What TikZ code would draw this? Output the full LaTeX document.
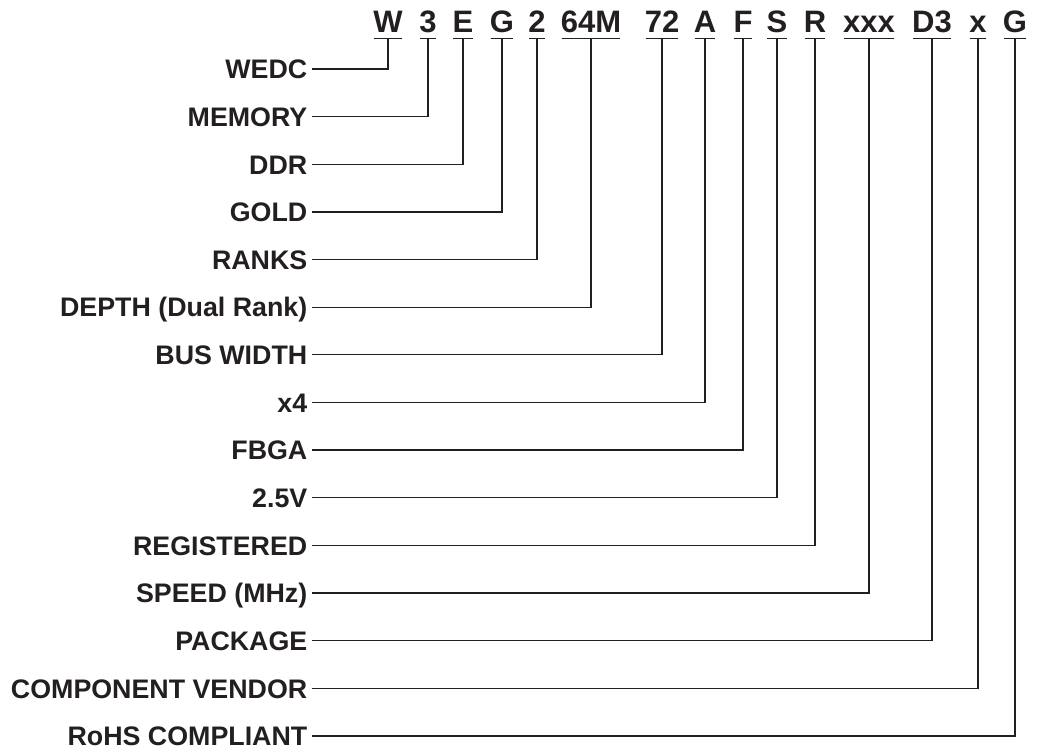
\documentclass[tikz,border=0pt]{standalone}
\usepackage{fontspec}
\setmainfont{Liberation Sans}
\definecolor{ink}{HTML}{231F20}

\tikzset{
  code/.style={font=\fontsize{31}{31}\selectfont\bfseries, text=ink, anchor=base,
    inner xsep=-1pt, inner ysep=6pt, text depth=0pt},
  field/.style={font=\fontsize{26.8}{26.8}\selectfont\bfseries, text=ink, anchor=east,
    inner xsep=4.5pt, inner ysep=0pt, text height=19.5pt, text depth=0pt},
  lead/.style={draw=ink, line width=1.3pt}
}

\begin{document}
\begin{tikzpicture}[x=1pt,y=1pt]
                \useasboundingbox (0,0) rectangle (1037,-747);
                % part number characters
                \foreach \c/\x [count=\i] in {W/388,3/428,E/463,G/502,2/537,64M/591,72/662,A/705,F/743,S/777,R/815,xxx/869,D3/932,x/978,G/1015}
                {
                    \node[code] (h\i) at (\x,-32) {\c};
                    \draw[lead] (h\i.south west) -- (h\i.south east);
                }
                % field names
                \foreach \t [count=\i] in {WEDC,MEMORY,DDR,GOLD,RANKS,DEPTH (Dual Rank),BUS WIDTH,x4,FBGA,2.5V,REGISTERED,SPEED (MHz),PACKAGE,COMPONENT VENDOR,RoHS COMPLIANT}
                {
                    \node[field] (l\i) at (312,{-69-47.64*(\i-1)}) {\t};
                    \draw[lead] (l\i.east) -| (h\i.south);
                }
            \end{tikzpicture}
\end{document}
